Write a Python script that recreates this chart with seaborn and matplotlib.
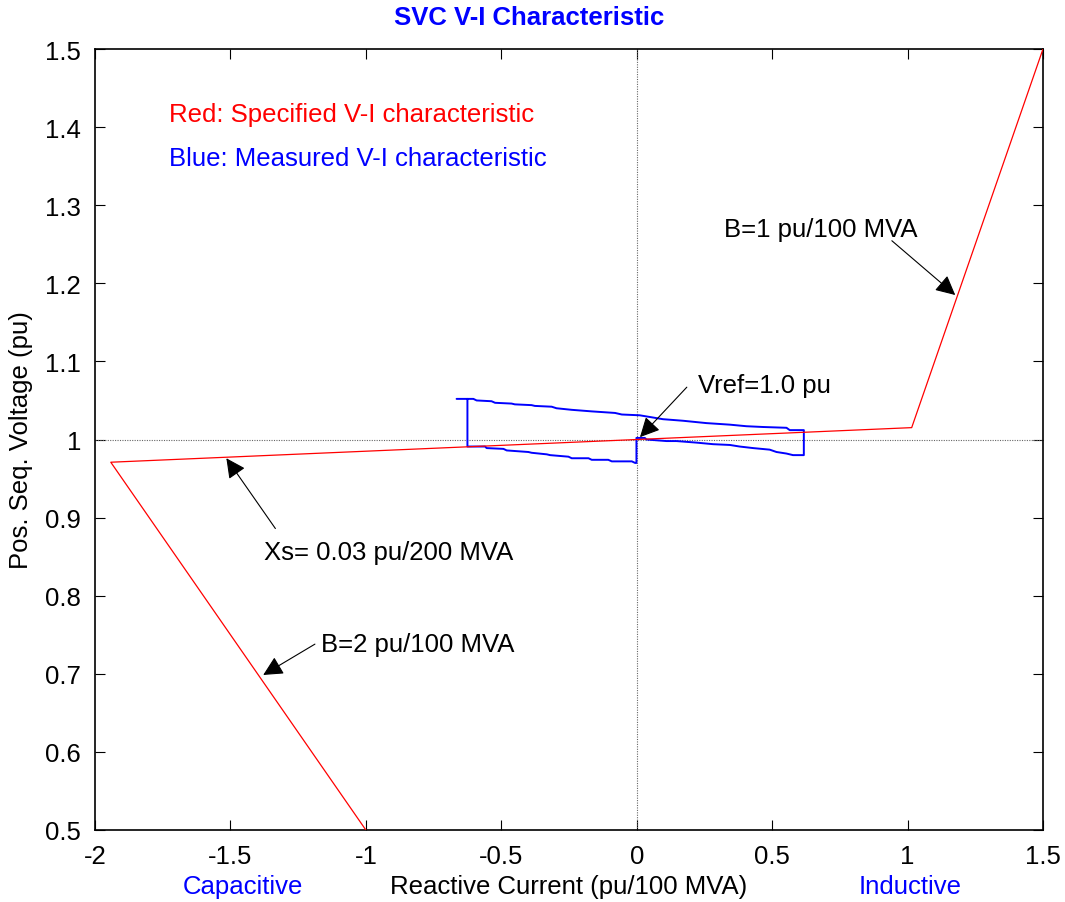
import numpy as np
import pandas as pd
import matplotlib
matplotlib.use('Agg')
import matplotlib.pyplot as plt
import seaborn as sns

# Specified V-I characteristic (red)
spec_current = [-1.0, -1.9417, 1.0152, 1.5]
spec_voltage = [0.5, 0.9709, 1.0152, 1.5]

# Measured V-I characteristic (blue), traced as one loop
meas_current = [
    -0.665, -0.603, -0.591, -0.536, -0.523, -0.462, -0.450, -0.388, -0.376, -0.314,
    -0.296, -0.240, -0.166, -0.080, -0.055, 0.011, 0.097, 0.171, 0.257, 0.344,
    0.405, 0.467, 0.553, 0.565, 0.617,
    0.617, 0.577, 0.553, 0.516, 0.491, 0.430, 0.380, 0.344, 0.282, 0.221,
    0.147, 0.110, 0.036, 0.030, -0.001,
    -0.001, -0.006, -0.018, -0.092, -0.105, -0.166, -0.178, -0.240, -0.252, -0.320,
    -0.332, -0.388, -0.400, -0.480, -0.492, -0.554, -0.560, -0.625, -0.625,
]
meas_voltage = [
    1.052, 1.052, 1.050, 1.049, 1.047, 1.046, 1.045, 1.044, 1.043, 1.042,
    1.040, 1.038, 1.036, 1.034, 1.032, 1.031, 1.026, 1.024, 1.021, 1.019,
    1.017, 1.016, 1.015, 1.012, 1.012,
    0.980, 0.980, 0.982, 0.984, 0.987, 0.989, 0.991, 0.993, 0.994, 0.996,
    0.998, 0.998, 1.000, 1.002, 1.002,
    0.970, 0.970, 0.972, 0.972, 0.974, 0.974, 0.976, 0.976, 0.978, 0.980,
    0.981, 0.983, 0.984, 0.986, 0.988, 0.989, 0.991, 0.991, 1.052,
]

x_ticks = [-2, -1.5, -1, -0.5, 0, 0.5, 1, 1.5]
x_tick_labels = ['-2', '-1.5', '-1', '-0.5', '0', '0.5', '1', '1.5']
y_ticks = [0.5, 0.6, 0.7, 0.8, 0.9, 1.0, 1.1, 1.2, 1.3, 1.4, 1.5]
y_tick_labels = ['0.5', '0.6', '0.7', '0.8', '0.9', '1', '1.1', '1.2', '1.3', '1.4', '1.5']

# annotations: (text, text pos, arrow tail, arrow head)
annotations = [
    ('B=1 pu/100 MVA', (0.324, 1.260), (0.942, 1.2545), (1.176, 1.185)),
    ('Vref=1.0 pu', (0.228, 1.0604), (0.185, 1.067), (0.012, 1.003)),
    ('Xs= 0.03 pu/200 MVA', (-1.375, 0.847), (-1.334, 0.886), (-1.515, 0.976)),
    ('B=2 pu/100 MVA', (-1.164, 0.729), (-1.188, 0.738), (-1.379, 0.6985)),
]

sns.set_theme(style='white')
plt.rcParams['font.family'] = ['Liberation Sans', 'DejaVu Sans']
plt.rcParams['text.color'] = 'black'
plt.rcParams['axes.labelcolor'] = 'black'
FS = 18.5

fig = plt.figure(figsize=(10.65, 9.03), dpi=100)
ax = fig.add_axes([95 / 1065, 1 - 831 / 903, 948 / 1065, 781 / 903])

# reference crosshair
ax.axhline(1.0, color='#666666', lw=0.8, ls=(0, (1, 1.2)), zorder=1)
ax.axvline(0.0, color='#666666', lw=0.8, ls=(0, (1, 1.2)), zorder=1)

df_spec = pd.DataFrame({'I': spec_current, 'V': spec_voltage})
df_meas = pd.DataFrame({'I': meas_current, 'V': meas_voltage})
sns.lineplot(data=df_spec, x='I', y='V', sort=False, estimator=None,
             color='red', lw=0.9, ax=ax, zorder=3)
sns.lineplot(data=df_meas, x='I', y='V', sort=False, estimator=None,
             color='blue', lw=1.4, ax=ax, zorder=2)

ax.set_xlim(-2, 1.5)
ax.set_ylim(0.5, 1.5)
ax.set_xticks(x_ticks)
ax.set_xticklabels(x_tick_labels)
ax.set_yticks(y_ticks)
ax.set_yticklabels(y_tick_labels)
ax.tick_params(direction='in', length=7, width=0.8, labelsize=FS, pad=10,
               top=True, right=True, bottom=True, left=True, colors='black')
for s in ax.spines.values():
    s.set_color('black')
    s.set_linewidth(1.2)

ax.set_xlabel('Reactive Current (pu/100 MVA)', fontsize=FS, va='center', color='black')
ax.xaxis.set_label_coords(0.5, -(887 - 831) / 781)
ax.set_ylabel('Pos. Seq. Voltage (pu)', fontsize=FS, labelpad=9, color='black')

ax.text(-1.728, 1.408, 'Red: Specified V-I characteristic', color='red',
        fontsize=FS, va='baseline', ha='left')
ax.text(-1.728, 1.351, 'Blue: Measured V-I characteristic', color='blue',
        fontsize=FS, va='baseline', ha='left')

for label, tpos, tail, head in annotations:
    ax.text(tpos[0], tpos[1], label, fontsize=FS, color='black',
            va='baseline', ha='left')
    ax.annotate('', xy=head, xytext=tail,
                arrowprops=dict(arrowstyle='-|>', color='black', lw=0.8,
                                mutation_scale=30, shrinkA=0, shrinkB=0))

fig.text(529.5 / 1065, 1 - 18 / 903, 'SVC V-I Characteristic', color='blue',
         fontsize=FS, fontweight='bold', ha='center', va='center')
fig.text(243 / 1065, 1 - 887 / 903, 'Capacitive', color='blue',
         fontsize=FS, ha='center', va='center')
fig.text(910 / 1065, 1 - 887 / 903, 'Inductive', color='blue',
         fontsize=FS, ha='center', va='center')

fig.savefig('out.png', dpi=100, facecolor='white')
